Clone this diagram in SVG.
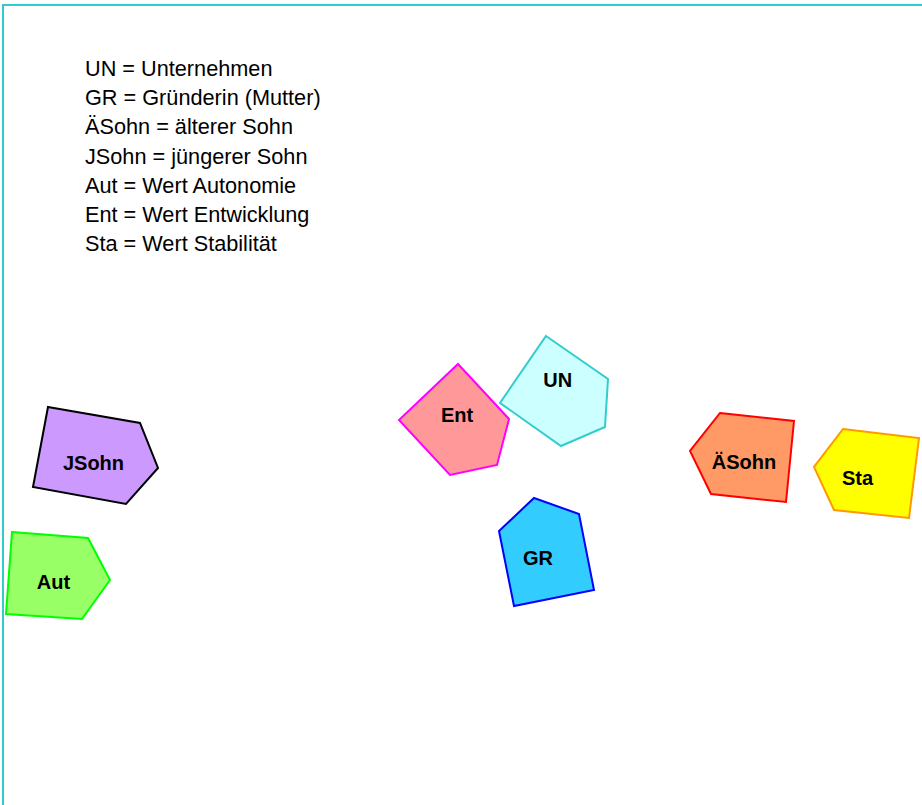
<svg xmlns="http://www.w3.org/2000/svg" width="922" height="805" viewBox="0 0 922 805">
<style>
.legend{font-family:"Liberation Sans",Arial,sans-serif;font-size:21.7px;fill:#000}
.lbl{font-family:"Liberation Sans",Arial,sans-serif;font-size:20px;font-weight:bold;fill:#000;text-anchor:middle}
.shape{stroke-width:2;stroke-linejoin:miter}
</style>
<rect x="0" y="0" width="922" height="805" fill="#fff"/>
<path d="M3 810 V5 H930" fill="none" stroke="#33CCCC" stroke-width="2"/>
<g id="legend" class="legend">
<text x="85" y="76">UN = Unternehmen</text>
<text x="85" y="105.2">GR = Gründerin (Mutter)</text>
<text x="85" y="134.4">ÄSohn = älterer Sohn</text>
<text x="85" y="163.6">JSohn = jüngerer Sohn</text>
<text x="85" y="192.8">Aut = Wert Autonomie</text>
<text x="85" y="222">Ent = Wert Entwicklung</text>
<text x="85" y="251.2">Sta = Wert Stabilität</text>
</g>
<g id="connectors"></g>
<g id="JSohn">
<polygon class="shape" points="48,407 140,423 158,468 126,504 33,487" fill="#CC99FF" stroke="#000"/>
<text class="lbl" x="93.5" y="470">JSohn</text>
</g>
<g id="Aut">
<polygon class="shape" points="12,532 88,538 110,580 82,619 6,614" fill="#99FF66" stroke="#00FF00"/>
<text class="lbl" x="53.5" y="589">Aut</text>
</g>
<g id="Ent">
<polygon class="shape" points="458,364 509,419 497,465 450,475 399,420" fill="#FF9999" stroke="#FF00FF"/>
<text class="lbl" x="457" y="421.5">Ent</text>
</g>
<g id="UN">
<polygon class="shape" points="546,336 608,379 605,427 561,446 500,403" fill="#CCFFFF" stroke="#33CCCC"/>
<text class="lbl" x="557.7" y="386.5">UN</text>
</g>
<g id="GR">
<polygon class="shape" points="534,498 579,514 594,590 514,606 499,531" fill="#33CCFF" stroke="#0000FF"/>
<text class="lbl" x="538" y="565">GR</text>
</g>
<g id="ASohn">
<polygon class="shape" points="720,413 794,421 786,502 711,494 690,451" fill="#FF9966" stroke="#FF0000"/>
<text class="lbl" x="744" y="469">ÄSohn</text>
</g>
<g id="Sta">
<polygon class="shape" points="843,429 919,438 909,518 834,510 814,467" fill="#FFFF00" stroke="#FF9900"/>
<text class="lbl" x="857.5" y="485">Sta</text>
</g>
</svg>
